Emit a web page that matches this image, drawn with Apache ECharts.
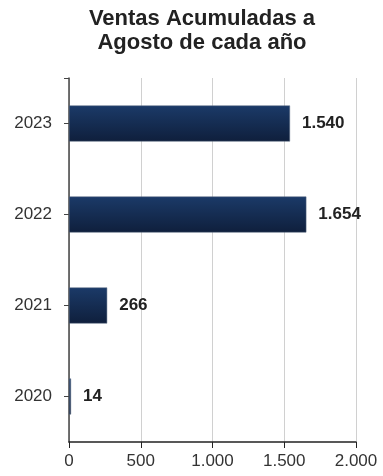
<!DOCTYPE html>
<html>
<head>
<meta charset="utf-8">
<script src="https://cdn.jsdelivr.net/npm/echarts@6/dist/echarts.min.js"></script>
<style>
  html, body { margin: 0; padding: 0; background: #fff; }
  #chart { width: 383px; height: 476px; }
</style>
</head>
<body>
<div id="chart"></div>
<script>
// Accumulated sales through August, per year
const years = ['2020', '2021', '2022', '2023'];
const sales = [14, 266, 1654, 1540];
const xTicks = [0, 500, 1000, 1500, 2000];

const FONT = 'Liberation Sans, Arial, sans-serif';
const fmt = v => String(Math.round(v)).replace(/\B(?=(\d{3})+(?!\d))/g, '.');

const chart = echarts.init(document.getElementById('chart'), null, { renderer: 'canvas' });
chart.setOption({
  animation: false,
  textStyle: { fontFamily: FONT },
  title: {
    text: 'Ventas Acumuladas a\nAgosto de cada año',
    left: 197,
    textAlign: 'center',
    top: 2,
    textStyle: {
      fontFamily: FONT,
      fontWeight: 'bold',
      fontSize: 22,
      lineHeight: 24,
      color: '#222'
    }
  },
  grid: { left: 69, right: 27, top: 78, bottom: 34, containLabel: false },
  xAxis: {
    type: 'value',
    min: xTicks[0],
    max: xTicks[xTicks.length - 1],
    interval: 500,
    axisLine: { show: true, lineStyle: { color: '#222', width: 1.5 } },
    axisTick: { show: true, length: 6, lineStyle: { color: '#222' } },
    splitLine: { show: true, lineStyle: { color: '#d0d0d0', width: 1 } },
    axisLabel: {
      color: '#333', fontSize: 17, margin: 11,
      formatter: v => fmt(v)
    }
  },
  yAxis: [{
    type: 'category',
    data: years,
    axisLine: { show: true, lineStyle: { color: '#444', width: 1.5 } },
    axisTick: { show: true, alignWithLabel: true, length: 5, lineStyle: { color: '#444' } },
    axisLabel: { color: '#333', fontSize: 17, margin: 17 }
  }, {
    // end cap tick at the top of the category axis
    type: 'value',
    position: 'left',
    min: 0,
    max: 1,
    axisLine: { show: false },
    splitLine: { show: false },
    axisLabel: { show: false },
    axisTick: { show: true, length: 5, customValues: [1], lineStyle: { color: '#444' } }
  }],
  series: [{
    type: 'bar',
    yAxisIndex: 0,
    data: sales,
    barWidth: 36,
    itemStyle: {
      color: new echarts.graphic.LinearGradient(0, 0, 0, 1, [
        { offset: 0, color: '#1b3a68' },
        { offset: 1, color: '#0f1f3c' }
      ]),
      borderColor: '#5a6a80',
      borderWidth: 0.5
    },
    label: {
      show: true,
      position: 'right',
      distance: 12,
      fontSize: 17,
      fontWeight: 'bold',
      color: '#222',
      formatter: p => fmt(p.value)
    }
  }]
});
</script>
</body>
</html>
